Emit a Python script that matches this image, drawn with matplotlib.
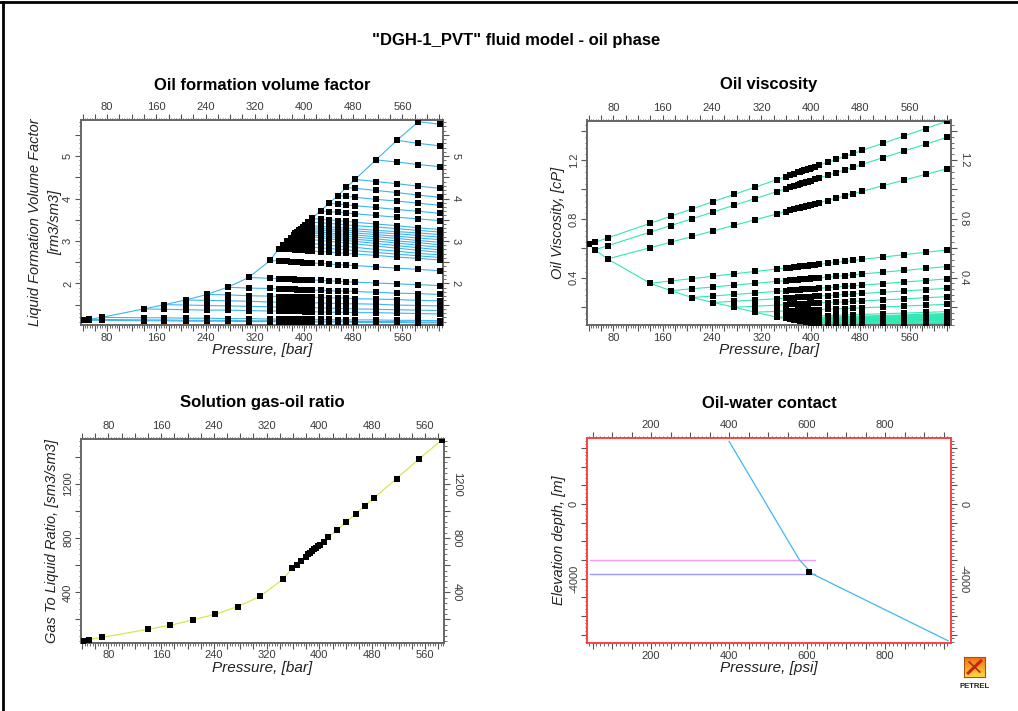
import matplotlib
matplotlib.use('Agg')
import numpy as np
import matplotlib.pyplot as plt
from matplotlib.ticker import MultipleLocator, FuncFormatter
from matplotlib.lines import Line2D

plt.rcParams['font.family'] = ['Liberation Sans', 'DejaVu Sans']

# pressure grid [bar] of the PVT table; undersaturated line i starts at grid point i
pressure_grid = [41, 50, 71, 140, 173, 208, 242, 276, 310, 345,
                 359, 366, 372, 379, 383, 386, 389, 392, 395, 398, 401, 407, 413,
                 427, 441, 455, 469, 483, 517, 551, 586, 621]

# oil formation volume factor [rm3/sm3]
bo_lines = [
    [1.13, 1.13, 1.13, 1.12, 1.12, 1.11, 1.11, 1.11, 1.10, 1.10, 1.10, 1.10, 1.10, 1.10, 1.10, 1.09,
     1.09, 1.09, 1.09, 1.09, 1.09, 1.09, 1.09, 1.09, 1.09, 1.09, 1.09, 1.08, 1.08, 1.08, 1.07, 1.07],
    [1.15, 1.15, 1.14, 1.14, 1.13, 1.13, 1.13, 1.12, 1.12, 1.12, 1.12, 1.12, 1.12, 1.12, 1.11, 1.11,
     1.11, 1.11, 1.11, 1.11, 1.11, 1.11, 1.11, 1.11, 1.11, 1.11, 1.10, 1.10, 1.10, 1.09, 1.09],
    [1.20, 1.19, 1.19, 1.18, 1.18, 1.17, 1.17, 1.16, 1.16, 1.16, 1.16, 1.15, 1.15, 1.15, 1.15, 1.15,
     1.15, 1.15, 1.15, 1.15, 1.15, 1.15, 1.15, 1.14, 1.14, 1.14, 1.14, 1.13, 1.13, 1.12],
    [1.40, 1.39, 1.38, 1.37, 1.37, 1.36, 1.35, 1.35, 1.34, 1.34, 1.34, 1.34, 1.34, 1.34, 1.34, 1.34,
     1.34, 1.33, 1.33, 1.33, 1.33, 1.32, 1.32, 1.32, 1.31, 1.31, 1.30, 1.29, 1.28],
    [1.50, 1.49, 1.48, 1.47, 1.46, 1.45, 1.44, 1.44, 1.44, 1.44, 1.43, 1.43, 1.43, 1.43, 1.43, 1.43,
     1.43, 1.43, 1.43, 1.42, 1.42, 1.41, 1.41, 1.40, 1.39, 1.38, 1.37, 1.36],
    [1.61, 1.60, 1.59, 1.58, 1.56, 1.56, 1.56, 1.55, 1.55, 1.55, 1.55, 1.55, 1.55, 1.55, 1.55, 1.54,
     1.54, 1.54, 1.54, 1.53, 1.53, 1.52, 1.52, 1.51, 1.49, 1.48, 1.47],
    [1.74, 1.73, 1.71, 1.70, 1.69, 1.69, 1.69, 1.69, 1.68, 1.68, 1.68, 1.68, 1.68, 1.68, 1.68, 1.67,
     1.67, 1.67, 1.66, 1.66, 1.65, 1.64, 1.63, 1.62, 1.60, 1.59],
    [1.91, 1.89, 1.88, 1.87, 1.87, 1.86, 1.86, 1.86, 1.86, 1.85, 1.85, 1.85, 1.85, 1.85, 1.85, 1.84,
     1.84, 1.83, 1.82, 1.82, 1.81, 1.79, 1.77, 1.76, 1.74],
    [2.14, 2.12, 2.11, 2.11, 2.10, 2.10, 2.10, 2.09, 2.09, 2.09, 2.09, 2.09, 2.08, 2.08, 2.08, 2.07,
     2.06, 2.05, 2.04, 2.03, 2.01, 1.99, 1.97, 1.95],
    [2.54, 2.53, 2.52, 2.52, 2.51, 2.51, 2.50, 2.50, 2.50, 2.50, 2.49, 2.49, 2.49, 2.48, 2.47, 2.46,
     2.44, 2.43, 2.42, 2.39, 2.36, 2.33, 2.30],
    [2.82, 2.81, 2.81, 2.80, 2.80, 2.79, 2.79, 2.79, 2.78, 2.78, 2.78, 2.77, 2.76, 2.75, 2.74, 2.72,
     2.71, 2.69, 2.66, 2.62, 2.59, 2.55],
    [2.91, 2.90, 2.89, 2.89, 2.89, 2.88, 2.88, 2.88, 2.87, 2.87, 2.86, 2.85, 2.84, 2.82, 2.81, 2.79,
     2.77, 2.73, 2.69, 2.65, 2.61],
    [2.99, 2.98, 2.98, 2.97, 2.97, 2.96, 2.96, 2.96, 2.95, 2.95, 2.94, 2.92, 2.90, 2.88, 2.87, 2.85,
     2.80, 2.76, 2.71, 2.67],
    [3.08, 3.07, 3.07, 3.07, 3.06, 3.06, 3.05, 3.05, 3.04, 3.03, 3.01, 2.99, 2.97, 2.95, 2.93, 2.88,
     2.83, 2.78, 2.73],
    [3.14, 3.14, 3.13, 3.13, 3.12, 3.12, 3.11, 3.10, 3.10, 3.08, 3.05, 3.03, 3.01, 2.99, 2.94, 2.89,
     2.84, 2.79],
    [3.18, 3.18, 3.17, 3.17, 3.16, 3.16, 3.15, 3.14, 3.12, 3.10, 3.08, 3.06, 3.04, 3.00, 2.95, 2.90, 2.85],
    [3.22, 3.22, 3.21, 3.21, 3.20, 3.20, 3.19, 3.17, 3.15, 3.13, 3.11, 3.09, 3.05, 3.00, 2.96, 2.91],
    [3.25, 3.25, 3.24, 3.24, 3.23, 3.22, 3.21, 3.19, 3.17, 3.16, 3.14, 3.10, 3.06, 3.01, 2.97],
    [3.29, 3.29, 3.28, 3.28, 3.27, 3.25, 3.24, 3.22, 3.21, 3.19, 3.15, 3.11, 3.07, 3.03],
    [3.33, 3.33, 3.32, 3.31, 3.30, 3.28, 3.27, 3.25, 3.24, 3.20, 3.17, 3.13, 3.09],
    [3.37, 3.36, 3.36, 3.34, 3.33, 3.32, 3.30, 3.29, 3.25, 3.22, 3.19, 3.15],
    [3.45, 3.44, 3.43, 3.41, 3.40, 3.38, 3.36, 3.33, 3.29, 3.25, 3.21],
    [3.53, 3.51, 3.50, 3.48, 3.46, 3.44, 3.40, 3.36, 3.31, 3.27],
    [3.71, 3.69, 3.68, 3.66, 3.64, 3.60, 3.56, 3.52, 3.48],
    [3.89, 3.87, 3.85, 3.83, 3.79, 3.74, 3.70, 3.65],
    [4.07, 4.05, 4.03, 3.98, 3.94, 3.89, 3.84],
    [4.26, 4.24, 4.19, 4.14, 4.08, 4.03],
    [4.45, 4.40, 4.35, 4.29, 4.24],
    [4.91, 4.86, 4.80, 4.75],
    [5.37, 5.30, 5.24],
    [5.81, 5.75],
]

# oil viscosity [cP]
visc_lines = [
    [0.627, 0.640, 0.670, 0.770, 0.818, 0.868, 0.918, 0.967, 1.016, 1.067, 1.087, 1.097, 1.106, 1.116,
     1.122, 1.126, 1.130, 1.135, 1.139, 1.143, 1.148, 1.156, 1.165, 1.185, 1.205, 1.226, 1.246, 1.266,
     1.315, 1.365, 1.415, 1.466],
    [0.589, 0.617, 0.710, 0.754, 0.801, 0.847, 0.893, 0.938, 0.986, 1.004, 1.014, 1.022, 1.031, 1.037,
     1.041, 1.045, 1.049, 1.053, 1.057, 1.061, 1.069, 1.077, 1.096, 1.115, 1.133, 1.152, 1.171, 1.217,
     1.262, 1.309, 1.356],
    [0.527, 0.604, 0.641, 0.680, 0.718, 0.756, 0.794, 0.833, 0.849, 0.857, 0.864, 0.871, 0.876, 0.879,
     0.883, 0.886, 0.889, 0.893, 0.896, 0.903, 0.909, 0.925, 0.941, 0.956, 0.972, 0.988, 1.026, 1.064,
     1.103, 1.142],
    [0.361, 0.377, 0.393, 0.409, 0.426, 0.442, 0.458, 0.465, 0.468, 0.471, 0.474, 0.476, 0.478, 0.479,
     0.480, 0.482, 0.483, 0.485, 0.488, 0.490, 0.497, 0.504, 0.510, 0.517, 0.524, 0.540, 0.556, 0.572,
     0.589],
    [0.311, 0.324, 0.336, 0.349, 0.361, 0.374, 0.379, 0.382, 0.384, 0.386, 0.388, 0.389, 0.390, 0.391,
     0.392, 0.393, 0.394, 0.397, 0.399, 0.404, 0.409, 0.414, 0.419, 0.425, 0.437, 0.449, 0.462, 0.475],
    [0.264, 0.275, 0.285, 0.295, 0.306, 0.310, 0.313, 0.314, 0.317, 0.318, 0.319, 0.320, 0.321, 0.322,
     0.322, 0.323, 0.325, 0.327, 0.331, 0.336, 0.340, 0.344, 0.349, 0.359, 0.370, 0.380, 0.391],
    [0.230, 0.239, 0.247, 0.256, 0.260, 0.262, 0.263, 0.265, 0.266, 0.267, 0.268, 0.268, 0.269, 0.270,
     0.271, 0.272, 0.274, 0.277, 0.281, 0.285, 0.288, 0.292, 0.300, 0.309, 0.318, 0.327],
    [0.198, 0.205, 0.212, 0.215, 0.217, 0.218, 0.220, 0.220, 0.221, 0.222, 0.222, 0.223, 0.224, 0.224,
     0.225, 0.227, 0.230, 0.232, 0.235, 0.238, 0.241, 0.248, 0.255, 0.263, 0.270],
    [0.164, 0.170, 0.173, 0.174, 0.175, 0.176, 0.177, 0.177, 0.178, 0.178, 0.179, 0.179, 0.180, 0.181,
     0.182, 0.184, 0.187, 0.189, 0.192, 0.194, 0.200, 0.206, 0.212, 0.218],
    [0.130, 0.132, 0.133, 0.134, 0.135, 0.135, 0.136, 0.136, 0.136, 0.137, 0.137, 0.138, 0.139, 0.139,
     0.141, 0.143, 0.145, 0.147, 0.149, 0.154, 0.158, 0.163, 0.168],
    [0.122, 0.123, 0.124, 0.125, 0.125, 0.125, 0.126, 0.126, 0.127, 0.127, 0.127, 0.128, 0.129, 0.131,
     0.132, 0.134, 0.136, 0.138, 0.142, 0.146, 0.151, 0.155],
    [0.117, 0.118, 0.119, 0.119, 0.120, 0.120, 0.120, 0.121, 0.121, 0.122, 0.122, 0.123, 0.125, 0.127,
     0.128, 0.130, 0.132, 0.137, 0.141, 0.145, 0.150],
    [0.113, 0.114, 0.114, 0.115, 0.115, 0.116, 0.116, 0.116, 0.117, 0.117, 0.118, 0.120, 0.122, 0.124,
     0.125, 0.127, 0.132, 0.136, 0.141, 0.145],
    [0.109, 0.110, 0.110, 0.110, 0.111, 0.111, 0.111, 0.112, 0.113, 0.113, 0.115, 0.117, 0.119, 0.121,
     0.122, 0.127, 0.131, 0.136, 0.140],
    [0.106, 0.106, 0.107, 0.107, 0.108, 0.108, 0.108, 0.109, 0.110, 0.112, 0.113, 0.115, 0.117, 0.119,
     0.123, 0.127, 0.132, 0.136],
    [0.104, 0.104, 0.105, 0.105, 0.105, 0.106, 0.106, 0.107, 0.109, 0.111, 0.112, 0.114, 0.116, 0.120,
     0.124, 0.128, 0.132],
    [0.102, 0.102, 0.103, 0.103, 0.103, 0.104, 0.105, 0.106, 0.108, 0.109, 0.111, 0.113, 0.116, 0.120,
     0.124, 0.128],
    [0.100, 0.100, 0.101, 0.101, 0.102, 0.102, 0.104, 0.105, 0.107, 0.108, 0.110, 0.113, 0.117, 0.120, 0.124],
    [0.098, 0.098, 0.099, 0.099, 0.100, 0.101, 0.103, 0.104, 0.106, 0.107, 0.110, 0.114, 0.117, 0.121],
    [0.096, 0.096, 0.097, 0.097, 0.099, 0.100, 0.102, 0.103, 0.104, 0.108, 0.111, 0.115, 0.118],
    [0.094, 0.095, 0.095, 0.096, 0.098, 0.099, 0.100, 0.102, 0.105, 0.108, 0.112, 0.115],
    [0.091, 0.092, 0.093, 0.094, 0.095, 0.097, 0.098, 0.101, 0.104, 0.108, 0.111],
    [0.088, 0.089, 0.091, 0.092, 0.093, 0.094, 0.097, 0.101, 0.104, 0.107],
    [0.085, 0.086, 0.087, 0.088, 0.089, 0.092, 0.095, 0.097, 0.100],
    [0.083, 0.084, 0.085, 0.086, 0.088, 0.090, 0.093, 0.095],
    [0.081, 0.082, 0.083, 0.085, 0.087, 0.089, 0.091],
    [0.080, 0.081, 0.083, 0.084, 0.086, 0.088],
    [0.079, 0.080, 0.082, 0.083, 0.085],
    [0.078, 0.079, 0.081, 0.082],
    [0.077, 0.078, 0.079],
    [0.077, 0.078],
]

# solution gas-oil ratio [sm3/sm3] at the saturation pressures
gor_saturated = [43, 50, 68, 127, 156, 196, 238, 294, 370, 498,
                 580, 602, 629, 663, 681, 693, 705, 717, 730, 742, 747, 774, 806,
                 860, 922, 978, 1038, 1097, 1240, 1385, 1525]

# oil-water contact: pressure [psi] vs elevation depth [m]
gradient_pressure = [400, 580, 613, 962]
gradient_depth = [3360, -2980, -3740, -7330]
contact_pressure = [44, 621]
goc_depth = -2980
owc_depth = -3732
datum_pressure = [606]
datum_depth = [-3643]

W, H = 1018, 711
fig = plt.figure(figsize=(W / 100, H / 100), dpi=100)

TICK_COLOR = '#3a3a3a'
FRAME_COLOR = '#666666'
MARKER_SIZE = 4.3


def px_axes(left, top, right, bottom):
    return fig.add_axes([left / W, 1 - bottom / H, (right - left) / W, (bottom - top) / H])


def every(step):
    def fmt(v, pos):
        if abs(v / step - round(v / step)) < 1e-6:
            return '%g' % round(v, 6)
        return ''
    return FuncFormatter(fmt)


def style_axes(ax, xlim, ylim, xticks, yticks, xlabel, ylabel, ylabel_x, xlabel_y, frame=FRAME_COLOR):
    ax.set_xlim(*xlim)
    ax.set_ylim(*ylim)
    xmaj, xminor, xlab = xticks
    ymaj, yminor, ylab = yticks
    ax.xaxis.set_major_locator(MultipleLocator(xmaj))
    ax.xaxis.set_minor_locator(MultipleLocator(xminor))
    ax.xaxis.set_major_formatter(every(xlab))
    ax.yaxis.set_major_locator(MultipleLocator(ymaj))
    ax.yaxis.set_minor_locator(MultipleLocator(yminor))
    ax.yaxis.set_major_formatter(every(ylab))
    ax.tick_params(which='both', direction='out', top=True, right=True,
                   labeltop=True, labelright=True, labelsize=8,
                   labelcolor=TICK_COLOR, color='#555555')
    ax.tick_params(which='major', length=4, width=0.8, pad=1.5)
    ax.tick_params(which='minor', length=1.8, width=0.6)
    for t in ax.yaxis.get_major_ticks():
        t.label1.set_rotation(90)
        t.label1.set_va('center')
        t.label2.set_rotation(-90)
        t.label2.set_va('center')
    for s in ax.spines.values():
        s.set_color(frame)
        s.set_linewidth(1.4)
    ax.set_xlabel(xlabel, fontsize=11, style='italic', color='#222222')
    ax.set_ylabel(ylabel, fontsize=10.5, style='italic', color='#222222', linespacing=1.55)
    ax.xaxis.label.set_va('center')
    ax.yaxis.label.set_va('center')
    ax.xaxis.set_label_coords(0.5, xlabel_y)
    ax.yaxis.set_label_coords(ylabel_x, 0.5)


def draw_fan(ax, lines, color):
    sat_p, sat_v = [], []
    for i, vals in enumerate(lines):
        p = pressure_grid[i:i + len(vals)]
        ax.plot(p, vals, color=color, lw=0.8, zorder=2)
        sat_p.append(p[0])
        sat_v.append(vals[0])
    ax.plot(sat_p, sat_v, color=color, lw=0.8, zorder=2)
    for i, vals in enumerate(lines):
        p = pressure_grid[i:i + len(vals)]
        ax.plot(p, vals, 's', color='black', ms=MARKER_SIZE, mew=0, zorder=3)


# --- Oil formation volume factor
ax1 = px_axes(80.7, 120, 443, 325)
draw_fan(ax1, bo_lines, '#3cb4f0')
style_axes(ax1, (37, 626), (1.02, 5.85), (20, 4, 80), (0.5, 0.1, 1),
           'Pressure, [bar]', 'Liquid Formation Volume Factor\n[rm3/sm3]', -0.098, -0.122)

# --- Oil viscosity
ax2 = px_axes(586.7, 120.5, 951, 325)
draw_fan(ax2, visc_lines, '#30e8b4')
style_axes(ax2, (37, 627), (0.077, 1.47), (20, 4, 80), (0.2, 0.04, 0.4),
           'Pressure, [bar]', 'Oil Viscosity, [cP]', -0.079, -0.122)

# --- Solution gas-oil ratio
ax3 = px_axes(80.7, 439, 444, 642.7)
sat_pressure = pressure_grid[:len(gor_saturated)]
ax3.plot(sat_pressure, gor_saturated, color='#c8ee50', lw=0.9, zorder=2)
ax3.plot(sat_pressure, gor_saturated, 's', color='black', ms=MARKER_SIZE, mew=0, zorder=3)
style_axes(ax3, (38, 589), (28, 1532), (20, 4, 80), (200, 40, 400),
           'Pressure, [bar]', 'Gas To Liquid Ratio, [sm3/sm3]', -0.079, -0.124)

# --- Oil-water contact
ax4 = px_axes(586.7, 438, 951, 643)
ax4.plot(contact_pressure, [goc_depth, goc_depth], color='#ff99f2', lw=1.0, zorder=2)
ax4.plot(contact_pressure, [owc_depth, owc_depth], color='#9a9aff', lw=1.0, zorder=2)
ax4.plot(gradient_pressure, gradient_depth, color='#40b8f0', lw=0.9, zorder=2)
ax4.plot(datum_pressure, datum_depth, 's', color='black', ms=MARKER_SIZE, mew=0, zorder=3)
style_axes(ax4, (35, 969), (-7446, 3536), (50, 10, 200), (1000, 200, 4000),
           'Pressure, [psi]', 'Elevation depth, [m]', -0.076, -0.124, frame='#ff4040')

# titles
title_kw = dict(ha='center', va='center', fontsize=12, fontweight='bold')
fig.text(262 / W, 1 - 85 / H, 'Oil formation volume factor', **title_kw)
fig.text(769 / W, 1 - 85 / H, 'Oil viscosity', **title_kw)
fig.text(262 / W, 1 - 403 / H, 'Solution gas-oil ratio', **title_kw)
fig.text(769 / W, 1 - 403 / H, 'Oil-water contact', **title_kw)

fig.text(516 / W, 1 - 40 / H, '"DGH-1_PVT" fluid model - oil phase', ha='center', va='center',
         fontsize=12, fontweight='bold')

# page frame (top and left edges)
fig.add_artist(Line2D([0, 1], [1 - 2 / H, 1 - 2 / H], transform=fig.transFigure, color='black', lw=2))
fig.add_artist(Line2D([3 / W, 3 / W], [0, 1 - 2 / H], transform=fig.transFigure, color='black', lw=2))

# small Petrel logo
logo = fig.add_axes([964 / W, 1 - 677 / H, 21 / W, 20 / H])
grad = np.linspace(0, 1, 20)[:, None] * np.ones((1, 20))
logo.imshow(grad, cmap=matplotlib.colors.LinearSegmentedColormap.from_list('pl', ['#f07010', '#ffd840']),
            extent=(0, 1, 0, 1), aspect='auto')
logo.plot([0.2, 0.8], [0.2, 0.8], color='#d02010', lw=2.2)
logo.plot([0.25, 0.75], [0.75, 0.25], color='#a03010', lw=1.2)
logo.set_xlim(0, 1)
logo.set_ylim(0, 1)
logo.set_xticks([])
logo.set_yticks([])
for s in logo.spines.values():
    s.set_color('#b05010')
    s.set_linewidth(0.8)
fig.text(975 / W, 1 - 686 / H, 'PETREL', ha='center', va='center', fontsize=5.5,
         fontweight='bold', color='#222222')

fig.savefig('out.png', dpi=100)
